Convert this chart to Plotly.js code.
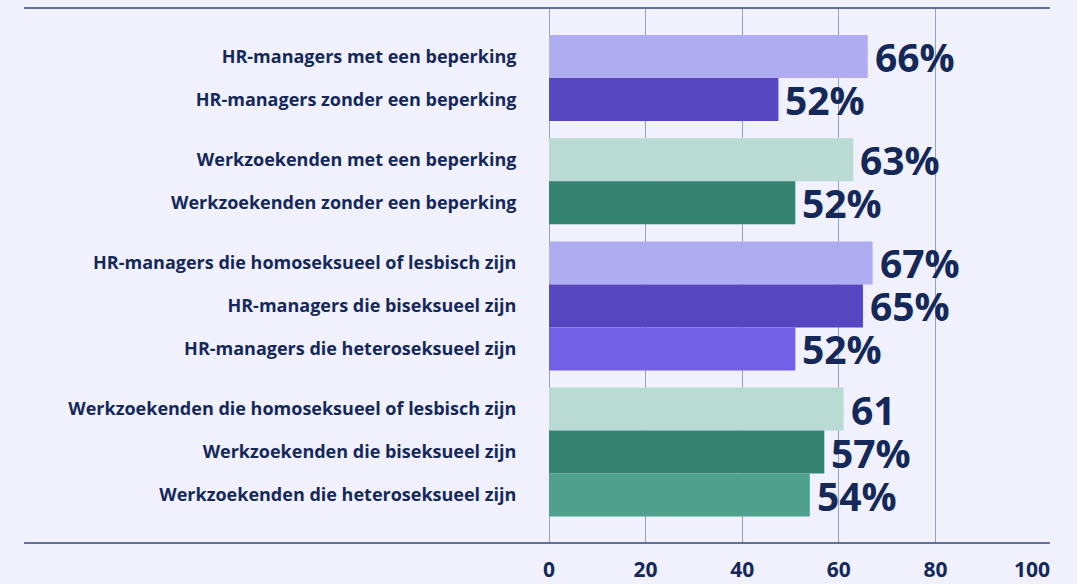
<!DOCTYPE html>
<html>
<head>
<meta charset="utf-8">
<script src="https://cdn.plot.ly/plotly-3.0.1.min.js"></script>
<style>
  html, body { margin: 0; padding: 0; background: #f1f1fd; }
  #chart { width: 1077px; height: 584px; }
</style>
</head>
<body>
<div id="chart"></div>
<script>
// ---- data ----
const groupSizes = [2, 2, 3, 3];
const categories = [
  "HR-managers met een beperking",
  "HR-managers zonder een beperking",
  "Werkzoekenden met een beperking",
  "Werkzoekenden zonder een beperking",
  "HR-managers die homoseksueel of lesbisch zijn",
  "HR-managers die biseksueel zijn",
  "HR-managers die heteroseksueel zijn",
  "Werkzoekenden die homoseksueel of lesbisch zijn",
  "Werkzoekenden die biseksueel zijn",
  "Werkzoekenden die heteroseksueel zijn"
];
// bar lengths as drawn in the reference
const values = [66, 47.5, 63, 51, 67, 65, 51, 61, 57, 54];
// labels as printed in the reference
const valueLabels = ["66%", "52%", "63%", "52%", "67%", "65%", "52%", "61", "57%", "54%"];
const barColors = ["#b0acf2", "#5646c0", "#b9dbd3", "#358371", "#b0acf2", "#5646c0", "#7360e6", "#b9dbd3", "#358371", "#4fa18e"];
const xTickVals = [0, 20, 40, 60, 80, 100];

// ---- row positions (rows within groups, with a gap between groups) ----
const groupGap = 0.4;
const positions = [];
let idx = 0;
groupSizes.forEach((n, g) => {
  for (let k = 0; k < n; k++) { positions.push(idx + g * groupGap); idx++; }
});

const navy = "#14295a";
const fontFam = "'Open Sans', 'DejaVu Sans', sans-serif";

const trace = {
  type: "bar",
  orientation: "h",
  x: values,
  y: positions,
  width: 1,
  marker: { color: barColors, line: { width: 0 } },
  hoverinfo: "none"
};

const annotations = values.map((v, i) => ({
  x: v,
  y: positions[i],
  xref: "x",
  yref: "y",
  text: valueLabels[i],
  showarrow: false,
  xanchor: "left",
  yanchor: "middle",
  xshift: 5,
  yshift: 0,
  font: { family: fontFam, size: 39, color: navy, weight: 700 }
}));

const layout = {
  width: 1077,
  height: 584,
  margin: { l: 549, r: 45, t: 8, b: 41 },
  paper_bgcolor: "#f1f1fd",
  plot_bgcolor: "#f1f1fd",
  showlegend: false,
  font: { family: fontFam, color: navy },
  xaxis: {
    range: [0, 100],
    tickvals: xTickVals,
    ticktext: xTickVals.map(String),
    showgrid: true,
    gridcolor: "#93a1c3",
    gridwidth: 1,
    zeroline: true,
    zerolinecolor: "#93a1c3",
    zerolinewidth: 1,
    showline: false,
    ticks: "outside",
    ticklen: 8,
    tickcolor: "rgba(0,0,0,0)",
    tickfont: { family: fontFam, size: 21, color: navy, weight: 700 },
    fixedrange: true
  },
  yaxis: {
    range: [11.314, -1.128],
    tickvals: positions,
    ticktext: categories,
    showgrid: false,
    zeroline: false,
    showline: false,
    ticks: "outside",
    ticklen: 28,
    tickcolor: "rgba(0,0,0,0)",
    tickfont: { family: fontFam, size: 18, color: navy, weight: 700 },
    fixedrange: true
  },
  annotations: annotations,
  shapes: [
    { type: "line", xref: "paper", yref: "paper", x0: -1.087, x1: 1.037, y0: 1, y1: 1,
      line: { color: "#34447a", width: 1.5 } },
    { type: "line", xref: "paper", yref: "paper", x0: -1.087, x1: 1.037, y0: 0, y1: 0,
      line: { color: "#34447a", width: 1.5 } }
  ]
};

Plotly.newPlot("chart", [trace], layout, { displayModeBar: false, staticPlot: true });
</script>
</body>
</html>
